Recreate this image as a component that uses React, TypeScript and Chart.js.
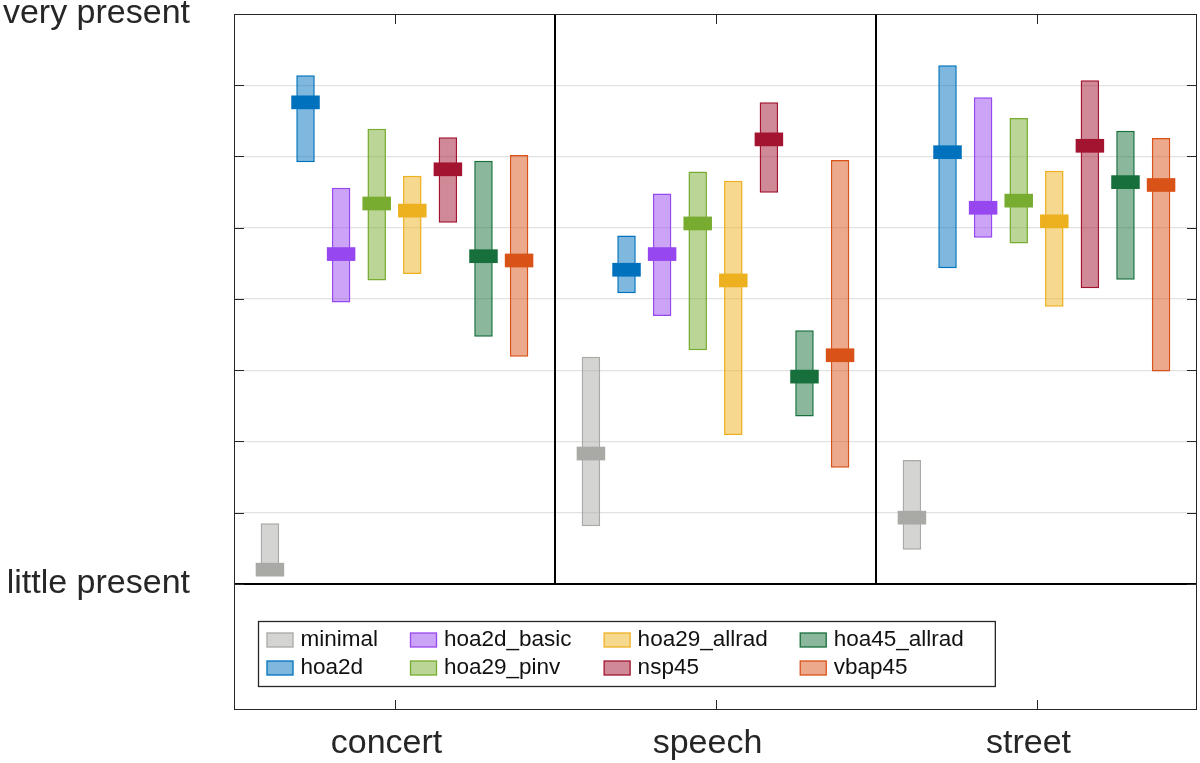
import { useEffect, useRef } from "react";
import { Chart, registerables, type ChartConfiguration, type Plugin } from "chart.js";

Chart.register(...registerables);

const scenes = ["concert", "speech", "street"];
const methods = [
  "minimal",
  "hoa2d",
  "hoa2d_basic",
  "hoa29_pinv",
  "hoa29_allrad",
  "nsp45",
  "hoa45_allrad",
  "vbap45",
];
const colors = ["#a9a9a5", "#0072bd", "#9747f0", "#77ac30", "#edb120", "#a2142f", "#176f3b", "#d95319"];

// one value per scene (concert, speech, street)
const lowValues = [
  [0.12, 0.81, 0.48],
  [5.92, 4.08, 4.43],
  [3.95, 3.76, 4.86],
  [4.26, 3.28, 4.78],
  [4.35, 2.09, 3.89],
  [5.07, 5.49, 4.15],
  [3.47, 2.35, 4.27],
  [3.19, 1.63, 2.98],
];
const highValues = [
  [0.85, 3.19, 1.74],
  [7.14, 4.89, 7.28],
  [5.56, 5.48, 6.83],
  [6.39, 5.79, 6.54],
  [5.73, 5.66, 5.8],
  [6.27, 6.76, 7.07],
  [5.94, 3.56, 6.36],
  [6.02, 5.95, 6.26],
];
const medianValues = [
  [0.2, 1.83, 0.93],
  [6.76, 4.41, 6.06],
  [4.63, 4.63, 5.28],
  [5.34, 5.06, 5.38],
  [5.24, 4.26, 5.09],
  [5.82, 6.24, 6.15],
  [4.6, 2.91, 5.64],
  [4.54, 3.21, 5.6],
];

const yTickValues = [0, 1, 2, 3, 4, 5, 6, 7, 8];
const yTickLabels = ["little present", "", "", "", "", "", "", "", "very present"];
const yMin = -1.77;
const yMax = 8;

const family = '"Liberation Sans", Arial, Helvetica, sans-serif';
const textColor = "#262626";
const axisColor = "#262626";

const line = (ctx: CanvasRenderingContext2D, x1: number, y1: number, x2: number, y2: number) => {
  ctx.beginPath();
  ctx.moveTo(x1, y1);
  ctx.lineTo(x2, y2);
  ctx.stroke();
};

// median markers sit on top of each box, wider than the box
const medianPlugin: Plugin<"bar"> = {
  id: "medians",
  afterDatasetsDraw(chart) {
    const { ctx } = chart;
    const y = chart.scales.y;
    ctx.save();
    methods.forEach((_, i) => {
      const meta = chart.getDatasetMeta(i);
      meta.data.forEach((el, j) => {
        const { x, width } = el.getProps(["x", "width"], true) as { x: number; width: number };
        const w = width * 1.54;
        const h = 13.7;
        const py = y.getPixelForValue(medianValues[i][j]);
        ctx.fillStyle = colors[i];
        ctx.fillRect(x - w / 2, py - h / 2, w, h);
      });
    });
    ctx.restore();
  },
};

const framePlugin: Plugin<"bar"> = {
  id: "frame",
  afterDatasetsDraw(chart) {
    const { ctx, chartArea: a } = chart;
    const x = chart.scales.x;
    const y = chart.scales.y;
    ctx.save();

    // scene separators and the zero line
    const y0 = Math.round(y.getPixelForValue(0));
    ctx.strokeStyle = "#000";
    ctx.lineWidth = 2;
    for (let i = 1; i < scenes.length; i++) {
      const px = Math.round((x.getPixelForValue(i - 1) + x.getPixelForValue(i)) / 2);
      line(ctx, px, a.top, px, y0);
    }
    line(ctx, a.left, y0, a.right, y0);

    // box and inward ticks
    ctx.strokeStyle = axisColor;
    ctx.lineWidth = 1;
    ctx.strokeRect(a.left + 0.5, a.top + 0.5, a.width - 1, a.height - 1);
    for (const v of yTickValues) {
      const py = Math.round(y.getPixelForValue(v)) + 0.5;
      line(ctx, a.left, py, a.left + 10, py);
      line(ctx, a.right - 10, py, a.right, py);
    }
    scenes.forEach((_, i) => {
      const px = Math.round(x.getPixelForValue(i)) + 0.5;
      line(ctx, px, a.top, px, a.top + 10);
      line(ctx, px, a.bottom - 10, px, a.bottom);
    });

    // legend, two rows, filled column by column
    ctx.font = `22.5px ${family}`;
    const cols = Math.ceil(methods.length / 2);
    const colWidths = Array.from({ length: cols }, (_, c) =>
      Math.max(...methods.slice(c * 2, c * 2 + 2).map((m) => ctx.measureText(m).width)),
    );
    const boxLeft = a.left + 24;
    const boxTop = a.bottom - 89;
    const swW = 26;
    const swH = 14;
    const textGap = 7.5;
    const colGap = 32.5;
    const totalW =
      9 + colWidths.reduce((s, w) => s + swW + textGap + w, 0) + colGap * (cols - 1) + 31;
    ctx.fillStyle = "#fff";
    ctx.fillRect(boxLeft, boxTop, totalW, 65);
    ctx.strokeStyle = axisColor;
    ctx.lineWidth = 1.3;
    ctx.strokeRect(boxLeft + 0.5, boxTop + 0.5, totalW, 65);

    let cx = boxLeft + 9;
    for (let c = 0; c < cols; c++) {
      for (let r = 0; r < 2; r++) {
        const i = c * 2 + r;
        if (i >= methods.length) continue;
        const rowY = boxTop + 19 + r * 28;
        ctx.fillStyle = colors[i] + "80";
        ctx.fillRect(cx, rowY - swH / 2, swW, swH);
        ctx.strokeStyle = colors[i];
        ctx.lineWidth = 1.3;
        ctx.strokeRect(cx, rowY - swH / 2, swW, swH);
        ctx.fillStyle = "#111";
        ctx.textAlign = "left";
        ctx.textBaseline = "middle";
        ctx.fillText(methods[i], cx + swW + textGap, rowY);
      }
      cx += swW + textGap + colWidths[c] + colGap;
    }
    ctx.restore();
  },
};

const config: ChartConfiguration<"bar"> = {
  type: "bar",
  data: {
    labels: scenes,
    datasets: methods.map((name, i) => ({
      label: name,
      data: scenes.map((_, s) => [lowValues[i][s], highValues[i][s]] as [number, number]),
      backgroundColor: colors[i] + "80",
      borderColor: colors[i],
      borderWidth: 1.5,
      borderSkipped: false,
      categoryPercentage: 0.887,
      barPercentage: 0.52,
    })),
  },
  options: {
    responsive: true,
    maintainAspectRatio: false,
    animation: false,
    layout: { padding: { top: 0, right: 3, left: 0, bottom: 0 } },
    plugins: {
      legend: { display: false },
      tooltip: { enabled: false },
    },
    scales: {
      x: {
        type: "category",
        offset: true,
        grid: { display: false, drawTicks: false },
        border: { display: false },
        afterFit: (scale) => {
          scale.height = 53;
        },
        ticks: { padding: 13, labelOffset: -8, color: textColor, font: { family, size: 34 } },
      },
      y: {
        type: "linear",
        min: yMin,
        max: yMax,
        afterBuildTicks: (scale) => {
          scale.ticks = yTickValues.map((value) => ({ value }));
        },
        afterFit: (scale) => {
          scale.width = 234;
          scale.paddingTop = 14;
          scale.paddingBottom = 0;
        },
        border: { display: false },
        grid: {
          drawTicks: false,
          color: (ctx) => {
            const v = ctx.tick?.value;
            return v !== undefined && v > 0 && v < 8 ? "#e2e2e2" : "rgba(0,0,0,0)";
          },
          lineWidth: 1.2,
        },
        ticks: {
          padding: 44,
          color: textColor,
          font: { family, size: 34 },
          callback: (_value, index) => yTickLabels[index] ?? "",
        },
      },
    },
  },
  plugins: [medianPlugin, framePlugin],
};

export default function App() {
  const canvasRef = useRef<HTMLCanvasElement>(null);

  useEffect(() => {
    if (!canvasRef.current) {
      return undefined;
    }
    const chart = new Chart(canvasRef.current, config);
    return () => chart.destroy();
  }, []);

  return (
    <div style={{ position: "fixed", left: 0, top: 0, width: 1200, height: 763, background: "#fff" }}>
      <canvas ref={canvasRef} />
    </div>
  );
}
